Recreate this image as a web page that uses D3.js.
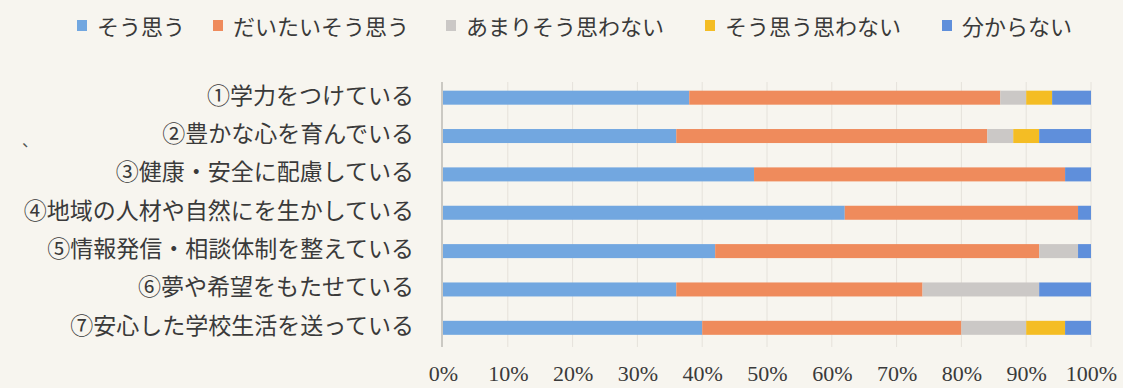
<!DOCTYPE html>
<html>
    <head>
        <meta charset="utf-8">
        <script type="text/javascript" src="https://cdn.jsdelivr.net/npm/d3@7/dist/d3.min.js"></script>
        <style type="text/css">
            html, body {
                margin: 0;
                padding: 0;
                background: #f7f5ef;
            }
        </style>
    </head>
    <body>
        <div id="chart"></div>

        <script>
        var width = 1123;
        var height = 388;

        // ========== data ==========
        var categories = [
            '①学力をつけている',
            '②豊かな心を育んでいる',
            '③健康・安全に配慮している',
            '④地域の人材や自然にを生かしている',
            '⑤情報発信・相談体制を整えている',
            '⑥夢や希望をもたせている',
            '⑦安心した学校生活を送っている'
        ];
        var seriesNames = ['そう思う', 'だいたいそう思う', 'あまりそう思わない', 'そう思う思わない', '分からない'];
        var agree       = [38, 36, 48, 62, 42, 36, 40];
        var mostlyAgree = [48, 48, 48, 36, 50, 38, 40];
        var notReally   = [ 4,  4,  0,  0,  6, 18, 10];
        var disagree    = [ 4,  4,  0,  0,  0,  0,  6];
        var unknown     = [ 6,  8,  4,  2,  2,  8,  4];
        var tickValues  = [0, 10, 20, 30, 40, 50, 60, 70, 80, 90, 100];

        var colors = ['#72a7e0', '#ef8b5c', '#cbc8c6', '#f4bd24', '#5f8fdb'];
        var legendX = [77, 213, 446, 705, 942];

        var serie = [agree, mostlyAgree, notReally, disagree, unknown];

        // table for d3.stack
        var rows = categories.map(function(c, i) {
            var r = { cat: c };
            seriesNames.forEach(function(s, j) { r[s] = serie[j][i]; });
            return r;
        });
        var stacked = d3.stack().keys(seriesNames)(rows);

        var svg = d3.select('#chart').append('svg')
            .attr('width', width)
            .attr('height', height);

        svg.append('rect')
            .attr('width', width)
            .attr('height', height)
            .attr('fill', '#f7f5ef');

        // scales
        var xScale = d3.scaleLinear()
            .domain([0, 100])
            .range([443, 1091]);

        var yScale = d3.scaleBand()
            .domain(categories)
            .range([78.5, 347])
            .paddingInner(0.635)
            .paddingOuter(0.3175);

        // gridlines
        svg.append('g')
            .selectAll('line')
            .data(tickValues.slice(1))
            .enter()
            .append('line')
            .attr('x1', function(d) { return xScale(d); })
            .attr('x2', function(d) { return xScale(d); })
            .attr('y1', 82)
            .attr('y2', 347)
            .attr('stroke', '#e5e2db')
            .attr('stroke-width', 1);

        // bars
        svg.append('g')
            .selectAll('g')
            .data(stacked)
            .enter()
            .append('g')
            .attr('fill', function(d, i) { return colors[i]; })
            .selectAll('rect')
            .data(function(d) { return d; })
            .enter()
            .append('rect')
            .attr('x', function(d) { return xScale(d[0]); })
            .attr('y', function(d) { return yScale(d.data.cat); })
            .attr('width', function(d) { return xScale(d[1]) - xScale(d[0]); })
            .attr('height', yScale.bandwidth());

        // left axis line
        svg.append('line')
            .attr('x1', 442).attr('x2', 442)
            .attr('y1', 82).attr('y2', 347)
            .attr('stroke', '#bdbab4')
            .attr('stroke-width', 1.5);

        // category labels
        svg.append('g')
            .selectAll('text')
            .data(categories)
            .enter()
            .append('text')
            .attr('x', 414)
            .attr('y', function(d) { return yScale(d) + yScale.bandwidth() / 2 - 4; })
            .attr('text-anchor', 'end')
            .attr('dominant-baseline', 'central')
            .attr('font-family', '"Noto Sans CJK JP", sans-serif')
            .attr('font-size', 23)
            .attr('fill', '#3a3a3a')
            .text(function(d) { return d; });

        // x axis
        var xAxis = d3.axisBottom(xScale)
            .tickValues(tickValues)
            .tickSize(0)
            .tickPadding(0)
            .tickFormat(function(d) { return d + '%'; });

        var gx = svg.append('g')
            .attr('transform', 'translate(0, 365)')
            .call(xAxis);
        gx.select('.domain').remove();
        gx.selectAll('text')
            .attr('font-family', '"Liberation Serif", serif')
            .attr('font-size', 22)
            .attr('fill', '#3a3a3a');

        // legend
        var legend = svg.append('g')
            .selectAll('g')
            .data(seriesNames)
            .enter()
            .append('g')
            .attr('transform', function(d, i) { return 'translate(' + legendX[i] + ', 25)'; });

        legend.append('rect')
            .attr('x', 0)
            .attr('y', -5)
            .attr('width', 10)
            .attr('height', 11)
            .attr('fill', function(d, i) { return colors[i]; });

        legend.append('text')
            .attr('x', 20)
            .attr('y', 0)
            .attr('dominant-baseline', 'central')
            .attr('font-family', '"Noto Sans CJK JP", sans-serif')
            .attr('font-size', 22)
            .attr('fill', '#3a3a3a')
            .text(function(d) { return d; });

        // stray mark in the scan
        svg.append('text')
            .attr('x', 22)
            .attr('y', 146)
            .attr('font-family', '"Noto Sans CJK JP", sans-serif')
            .attr('font-size', 16)
            .attr('fill', '#555')
            .text('、');
        </script>
    </body>
</html>
